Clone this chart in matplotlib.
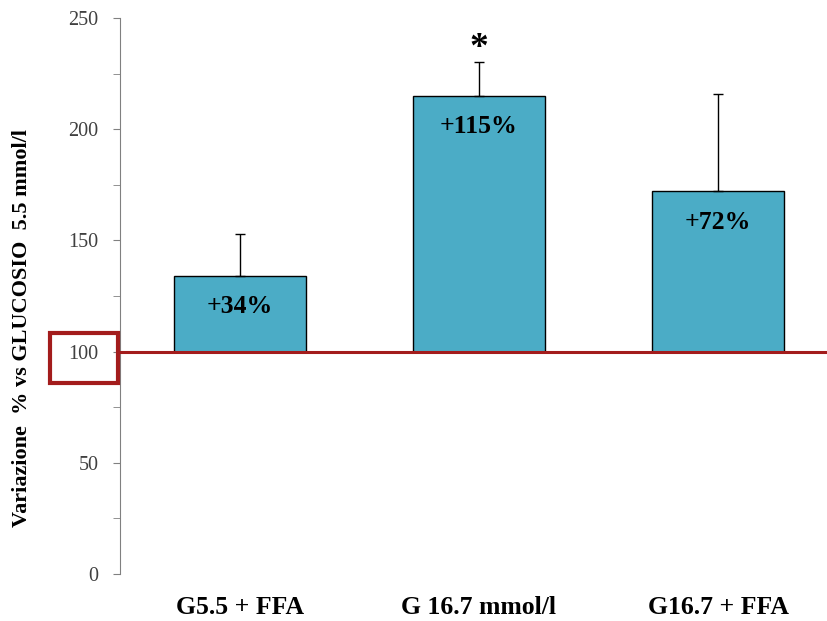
import numpy as np
import matplotlib
matplotlib.use("Agg")
import matplotlib.pyplot as plt
from matplotlib.patches import Rectangle
import matplotlib.transforms as mtransforms

# data
categories = ["G5.5 + FFA", "G 16.7 mmol/l", "G16.7 + FFA"]
values = [134, 215, 172]
errors = [19, 15, 44]
labels = ["+34%", "+115%", "+72%"]
baseline = 100

plt.rcParams['font.family'] = ['Liberation Serif', 'DejaVu Serif']

fig = plt.figure(figsize=(8.27, 6.21), dpi=100)
ax = fig.add_axes([0.1457, 0.0757, 0.867, 0.8953])

x = np.arange(len(categories))
heights = [v - baseline for v in values]
ax.bar(x, heights, bottom=baseline, width=0.556, color="#4BACC6",
       edgecolor="black", linewidth=1.0, zorder=2)
ax.errorbar(x, values, yerr=[np.zeros(len(errors)), errors], fmt="none",
            ecolor="black", elinewidth=1.0, capsize=3.3, capthick=1.0, zorder=3)

ax.axhline(baseline, color="#A31C1C", linewidth=2.2, zorder=4)

for xi, v, lab in zip(x, values, labels):
    ax.annotate(lab, (xi, v), xytext=(0, -14), textcoords="offset points",
                ha="center", va="top", fontsize=18.5, fontweight="bold")

ax.annotate("*", (1, values[1] + errors[1]), xytext=(0, 10),
            textcoords="offset points", ha="center", va="center",
            fontsize=27, fontweight="bold")

ax.set_xlim(-0.5, 2.5)
ax.set_ylim(0, 250)
ax.set_yticks(np.arange(0, 251, 50))
ax.set_yticks(np.arange(0, 251, 25), minor=True)
ax.tick_params(axis="y", which="both", direction="out", length=5,
               color="#808080", labelsize=14.5, labelcolor="#404040", pad=11)
ax.tick_params(axis="x", length=0, labelsize=18.5, pad=16)
ax.set_xticks(x)
ax.set_xticklabels(categories, fontweight="bold")

for s in ["top", "right", "bottom"]:
    ax.spines[s].set_visible(False)
ax.spines["left"].set_color("#808080")

ax.set_ylabel("Variazione  % vs GLUCOSIO  5.5 mmol/l", fontsize=16,
              fontweight="bold")
ax.yaxis.set_label_coords(-0.123, 0.442)

# red frame round the 100 label
trans = mtransforms.blended_transform_factory(ax.transAxes, ax.transData)
ax.add_patch(Rectangle((-0.098, 86), 0.095, 22.5, transform=trans,
                       fill=False, edgecolor="#A31C1C", linewidth=3,
                       clip_on=False, zorder=5))

fig.savefig("out.png", dpi=100)
